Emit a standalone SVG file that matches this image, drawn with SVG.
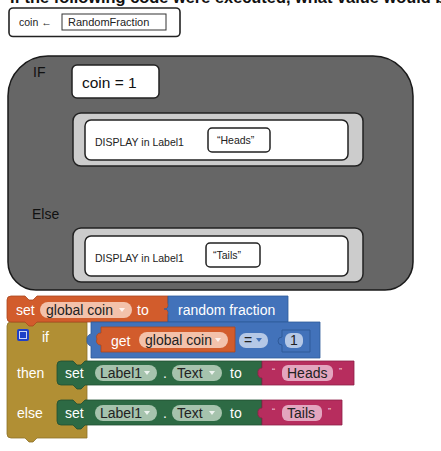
<svg xmlns="http://www.w3.org/2000/svg" width="441" height="451" viewBox="0 0 441 451">
<style>
.t{font-family:"Liberation Sans",Arial,sans-serif}
.bt{font-family:"Liberation Sans",Arial,sans-serif;font-size:14px;fill:#fff}
.dk{font-family:"Liberation Sans",Arial,sans-serif;font-size:14px;fill:#222}
.arr{fill:#fff;opacity:.8}
</style>
<rect width="441" height="451" fill="#fff"/>
<text class="t" x="10" y="2.5" font-size="16.4" font-weight="bold" fill="#111">If the following code were executed, what value would be</text>

<g id="assign">
<rect x="9" y="8" width="171" height="28.5" rx="4" fill="#fff" stroke="#222" stroke-width="1.6"/>
<text class="t" x="19" y="26" font-size="10.5" fill="#222">coin ←</text>
<rect x="62" y="14" width="104" height="16" fill="#fff" stroke="#333" stroke-width="1"/>
<text class="t" x="68" y="26" font-size="11" fill="#222">RandomFraction</text>
</g>

<g id="ifblock">
<path d="M48 56 H373 A40 40 0 0 1 413 96 V262 A28 28 0 0 1 385 290 H36 A28 28 0 0 1 8 262 V96 A40 40 0 0 1 48 56 Z" fill="#666" stroke="#1a1a1a" stroke-width="1.5"/>
<text class="t" x="33" y="77" font-size="14" fill="#111">IF</text>
<text class="t" x="32" y="219" font-size="14" fill="#111">Else</text>
</g>

<g id="cond">
<rect x="72" y="65" width="87" height="33" rx="5" fill="#fff" stroke="#222" stroke-width="1.5"/>
<text class="t" x="82" y="88" font-size="15.5" fill="#111">coin = 1</text>
</g>

<g id="heads">
<rect x="73" y="113" width="290" height="53" rx="8" fill="#ccc" stroke="#222" stroke-width="1.5"/>
<rect x="85" y="120" width="263" height="40" rx="6" fill="#fff" stroke="#222" stroke-width="1.5"/>
<text class="t" x="95" y="146" font-size="10.5" fill="#222">DISPLAY in Label1</text>
<rect x="208" y="128" width="62" height="24" rx="4" fill="#fff" stroke="#222" stroke-width="1.5"/>
<text class="t" x="217" y="144" font-size="10.5" fill="#222">“Heads”</text>
</g>

<g id="tails">
<rect x="73" y="228" width="290" height="54" rx="8" fill="#ccc" stroke="#222" stroke-width="1.5"/>
<rect x="85" y="236" width="263" height="40" rx="6" fill="#fff" stroke="#222" stroke-width="1.5"/>
<text class="t" x="95" y="262" font-size="10.5" fill="#222">DISPLAY in Label1</text>
<rect x="206" y="243" width="54" height="24" rx="4" fill="#fff" stroke="#222" stroke-width="1.5"/>
<text class="t" x="213" y="259" font-size="10.5" fill="#222">“Tails”</text>
</g>

<g id="ifelse-block">
<path d="M11 322 H87 V438 H37 L33 442 H29 L25 438 H11 A4 4 0 0 1 7 434 V326 A4 4 0 0 1 11 322 Z" fill="#b18f34" stroke="#8e7128" stroke-width="0.8"/>
<rect x="17" y="329" width="12" height="12" rx="2" fill="#1f40c8"/>
<rect x="19.5" y="331.5" width="7" height="7" fill="none" stroke="#c9d3f5" stroke-width="1"/>
<text class="bt" x="42" y="342">if</text>
<text class="bt" x="17" y="378">then</text>
<text class="bt" x="17" y="418">else</text>
</g>

<g id="set-global">
<path d="M11 296 H25 L29 300 H33 L37 296 H168 V322 H37 L33 326 H29 L25 322 H11 A4 4 0 0 1 7 318 V300 A4 4 0 0 1 11 296 Z" fill="#d25c2c" stroke="#a9471f" stroke-width="0.8"/>
<text class="bt" x="16" y="315">set</text>
<rect x="40" y="302" width="92" height="16" rx="8" fill="#f3c2ab"/>
<text class="dk" x="46" y="315">global coin</text>
<path d="M119 308 h6 l-3 4 z" class="arr"/>
<text class="bt" x="137" y="315">to</text>
</g>

<g id="random-fraction">
<path d="M168 296 H288 V322 H168 V315 A4 4 0 0 0 164 309 A4 4 0 0 0 168 303 Z" fill="#4272ba" stroke="#2f5a99" stroke-width="0.8"/>
<text class="bt" x="178" y="315">random fraction</text>
</g>

<g id="compare">
<path d="M91 322 H320 V358 H91 V346 A5 5 0 0 1 87 340 A5 5 0 0 1 91 334 Z" fill="#4272ba" stroke="#2f5a99" stroke-width="0.8"/>
<path d="M101 327 H235 V352 H101 V345 A4 4 0 0 1 97 339 A4 4 0 0 1 101 333 Z" fill="#d25c2c" stroke="#a9471f" stroke-width="0.8"/>
<text class="bt" x="111" y="346">get</text>
<rect x="139" y="332" width="89" height="16" rx="8" fill="#f3c2ab"/>
<text class="dk" x="145" y="345">global coin</text>
<path d="M215 338 h6 l-3 4 z" class="arr"/>
<rect x="239" y="333" width="29" height="15" rx="7" fill="#b5c8e6"/>
<text class="dk" x="244" y="345">=</text>
<path d="M256 338 h6 l-3 4 z" fill="#4272ba"/>
<path d="M282 330 H310 V352 H282 V345 A4 4 0 0 1 278 341 A4 4 0 0 1 282 337 Z" fill="#4272ba" stroke="#2f5a99" stroke-width="1"/>
<rect x="285" y="333" width="18" height="15" rx="6" fill="#b5c8e6"/>
<text class="dk" x="290" y="345">1</text>
</g>

<g id="set-heads">
<path d="M61 361 H73 L77 365 H81 L85 361 H262 V385 H85 L81 389 H77 L73 385 H61 A4 4 0 0 1 57 381 V365 A4 4 0 0 1 61 361 Z" fill="#2d6a44" stroke="#1f4e31" stroke-width="0.8"/>
<text class="bt" x="65" y="378">set</text>
<rect x="95" y="365" width="62" height="16" rx="8" fill="#a6c3ad"/>
<text class="dk" x="100" y="378">Label1</text>
<path d="M144 371 h6 l-3 4 z" class="arr"/>
<text class="bt" x="163" y="378">.</text>
<rect x="172" y="365" width="50" height="16" rx="8" fill="#a6c3ad"/>
<text class="dk" x="177" y="378">Text</text>
<path d="M209 371 h6 l-3 4 z" class="arr"/>
<text class="bt" x="230" y="378">to</text>
<path d="M262 361 H354 V385 H262 V378 A4 4 0 0 1 258 373 A4 4 0 0 1 262 368 Z" fill="#b72d5e" stroke="#8e1f47" stroke-width="0.8"/>
<text class="t" x="272" y="374" font-size="9" fill="#f3c6d6">“</text>
<rect x="282" y="365" width="51" height="16" rx="6" fill="#e3a5bf"/>
<text class="dk" x="287" y="378">Heads</text>
<text class="t" x="339" y="374" font-size="9" fill="#f3c6d6">”</text>
</g>

<g id="set-tails">
<path d="M61 400 H73 L77 404 H81 L85 400 H262 V425 H85 L81 429 H77 L73 425 H61 A4 4 0 0 1 57 421 V404 A4 4 0 0 1 61 400 Z" fill="#2d6a44" stroke="#1f4e31" stroke-width="0.8"/>
<text class="bt" x="65" y="418">set</text>
<rect x="95" y="405" width="62" height="16" rx="8" fill="#a6c3ad"/>
<text class="dk" x="100" y="418">Label1</text>
<path d="M144 411 h6 l-3 4 z" class="arr"/>
<text class="bt" x="163" y="418">.</text>
<rect x="172" y="405" width="50" height="16" rx="8" fill="#a6c3ad"/>
<text class="dk" x="177" y="418">Text</text>
<path d="M209 411 h6 l-3 4 z" class="arr"/>
<text class="bt" x="230" y="418">to</text>
<path d="M262 400 H342 V425 H262 V418 A4 4 0 0 1 258 413 A4 4 0 0 1 262 408 Z" fill="#b72d5e" stroke="#8e1f47" stroke-width="0.8"/>
<text class="t" x="272" y="414" font-size="9" fill="#f3c6d6">“</text>
<rect x="282" y="405" width="40" height="16" rx="6" fill="#e3a5bf"/>
<text class="dk" x="287" y="418">Tails</text>
<text class="t" x="328" y="414" font-size="9" fill="#f3c6d6">”</text>
</g>

<g id="connectors"/>
</svg>
